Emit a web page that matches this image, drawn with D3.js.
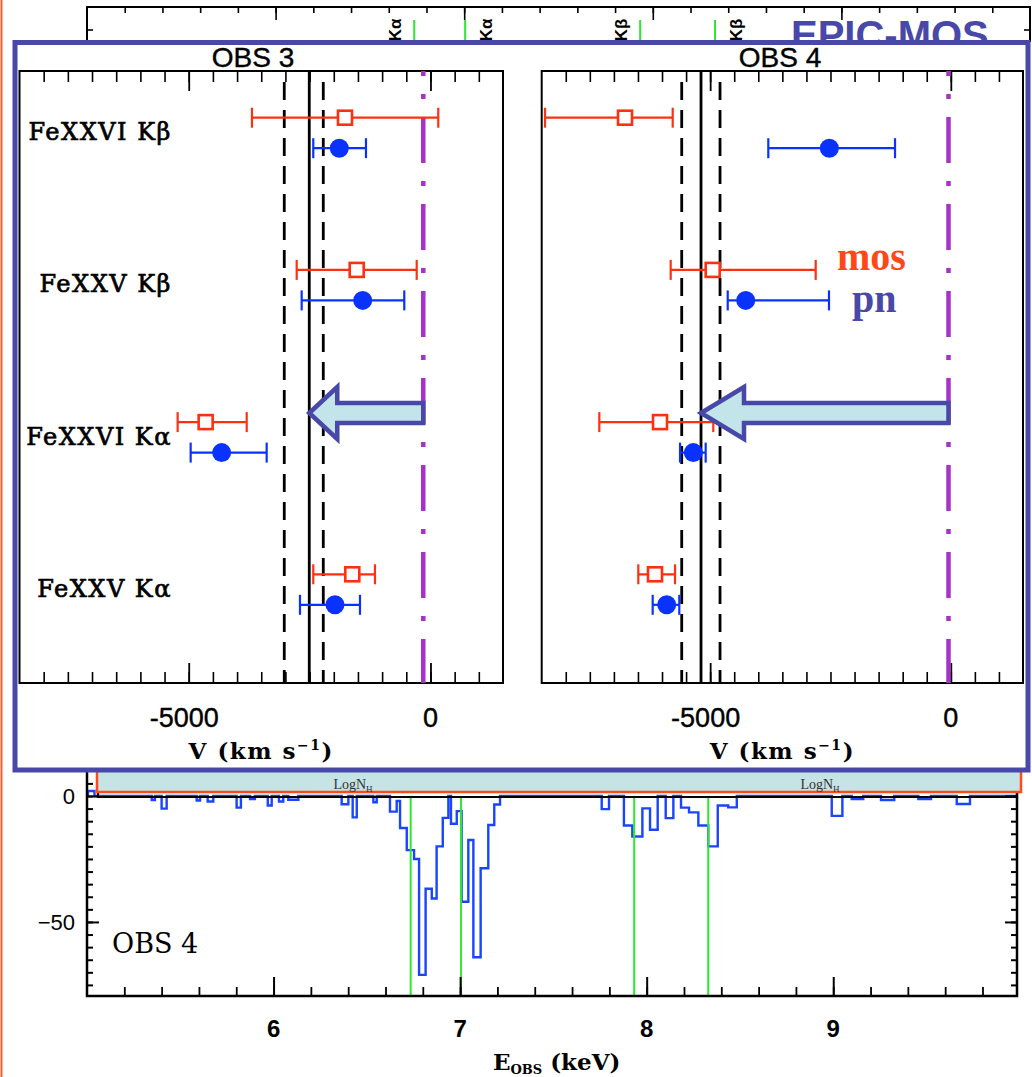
<!DOCTYPE html>
<html><head><meta charset="utf-8">
<script src="https://cdn.jsdelivr.net/npm/d3@7"></script>
<style>
html,body{margin:0;padding:0;background:#fff;}
svg{display:block;}
</style></head>
<body>
<svg id="chart" width="1032" height="1077"></svg>
<script>
// ---------------- velocity shifts of the Fe K absorption lines (km/s) ----------------
const lines = ["FeXXVI Kβ", "FeXXV Kβ", "FeXXVI Kα", "FeXXV Kα"];
const obsNames = ["OBS 3", "OBS 4"];

const obs3Mos   = [-1768, -1526, -4650, -1617];
const obs3MosLo = [-3692, -2767, -5229, -2424];
const obs3MosHi = [  161,  -285, -3801, -1148];
const obs3Pn    = [-1886, -1402, -4319, -1975];
const obs3PnLo  = [-2424, -2664, -4960, -2699];
const obs3PnHi  = [-1334,  -542, -3388, -1458];

const obs4Mos   = [-6769, -4947, -6042, -6146];
const obs4MosLo = [-8431, -5820, -7303, -6493];
const obs4MosHi = [-5778, -2807, -4935, -5730];
const obs4Pn    = [-2524, -4261, -5350, -5903];
const obs4PnLo  = [-3792, -4635, -5626, -6194];
const obs4PnHi  = [-1159, -2531, -5093, -5641];

// mean outflow velocity and its range, and rest-frame reference, per observation
const meanV  = [-2507, -5190];
const meanLo = [-3024, -5591];
const meanHi = [-2217, -4795];
const restV  = [-149, -48];
const velLabelTicks = [-5000, 0];

// ---------------- residual spectrum (OBS 4) ----------------
const specEdges = [5.0, 5.005, 5.04, 5.347, 5.364, 5.400, 5.427, 5.588, 5.606, 5.647, 5.677,
  5.802, 5.825, 5.874, 5.900, 5.969, 5.990, 6.029, 6.052, 6.079, 6.133, 6.365, 6.401, 6.424,
  6.446, 6.535, 6.553, 6.624, 6.660, 6.678, 6.714, 6.753, 6.780, 6.815, 6.848, 6.874, 6.907,
  6.937, 6.951, 6.982, 7.008, 7.044, 7.071, 7.110, 7.151, 7.183, 7.214, 7.759, 7.798, 7.878,
  7.923, 7.977, 8.018, 8.059, 8.102, 8.143, 8.184, 8.227, 8.277, 8.330, 8.381, 8.437, 8.483,
  8.992, 9.049, 9.099, 9.161, 9.256, 9.327, 9.456, 9.524, 9.662, 9.733, 9.985];
const specValues = [0, 2, 0, -1.6, 0, -5.0, 0, -1.8, 0, -2.2,
  0, -4.6, 0, -1.2, 0, -3.8, 0, -2.2, 0, -1.5, 0, -3.3, 0,
  -8.5, 0, -2.5, 0, -6.2, -2.0, -12.7, -21.5, -25, -71, -36.8, -40.7, -20,
  -8.7, 0, -11, -6, -42, -17.5, -64, -28.7, -11.5, -3.4, 0, -5.2, 0,
  -11.7, -16.1, -4.9, -13.4, 0, -8.8, 0, -4.6, -6.5, -11.7, -20, -3.8, -4.5,
  0, -7.9, 0, -1.2, 0, -1.6, 0, -1.2, 0, -3.2, 0];
const lineEnergies = [6.735, 7.005, 7.933, 8.33];
const lineTags = ["Kα", "Kα", "Kβ", "Kβ"];
const energyTicks = [6, 7, 8, 9];
const countTicks = [0, -50];

// ---------------- drawing ----------------
const W = 1032, H = 1077;
const svg = d3.select("#chart");
const PURPLE = "#4848a8";
const GREEN = "#2ee82e";
const SANS = "'Liberation Sans', Arial, sans-serif";
const SERIF = "'DejaVu Serif', serif";

function styleAxis(sel, w) {
  sel.select(".domain").remove();
  sel.selectAll(".tick line").attr("stroke", "#000").attr("stroke-width", w);
}

svg.append("defs").append("clipPath").attr("id", "topclip")
  .append("rect").attr("x", 0).attr("y", 0).attr("width", W).attr("height", 42);

// thin strip on the far left
svg.append("line").attr("x1", 1.5).attr("x2", 1.5).attr("y1", 0).attr("y2", H)
  .attr("stroke", "#ff5a28").attr("stroke-width", 2);

// ---- upper spectrum panel (mostly covered) ----
const xTop = d3.scaleLinear().domain([5, 10]).range([87, 1030]);
const topG = svg.append("g").attr("clip-path", "url(#topclip)");
topG.append("path")
  .attr("d", `M${xTop(5)},48V7H${xTop(10)}V48`)
  .attr("fill", "none").attr("stroke", "#000").attr("stroke-width", 2);
topG.append("g").attr("transform", "translate(0,7)")
  .call(d3.axisBottom(xTop).tickValues(d3.range(5.2, 9.99, 0.2)).tickSize(6).tickFormat(""))
  .call(s => styleAxis(s, 1.6));
topG.append("g").attr("transform", "translate(0,7)")
  .call(d3.axisBottom(xTop).tickValues(energyTicks).tickSize(13).tickFormat(""))
  .call(s => styleAxis(s, 1.6));
topG.append("line").attr("x1", xTop(5)).attr("x2", xTop(5) + 6).attr("y1", 30).attr("y2", 30)
  .attr("stroke", "#000").attr("stroke-width", 1.6);
topG.append("line").attr("x1", xTop(10)).attr("x2", xTop(10) - 6).attr("y1", 30).attr("y2", 30)
  .attr("stroke", "#000").attr("stroke-width", 1.6);
topG.selectAll("line.eline").data(lineEnergies).join("line")
  .attr("class", "eline")
  .attr("x1", d => xTop(d)).attr("x2", d => xTop(d))
  .attr("y1", 20).attr("y2", 48)
  .attr("stroke", GREEN).attr("stroke-width", 2);
topG.selectAll("text.tag").data(lineTags).join("text")
  .attr("class", "tag")
  .attr("transform", (d, i) => `translate(${xTop(lineEnergies[i]) + (i % 2 ? 21 : -19)},30) rotate(-90)`)
  .attr("text-anchor", "middle").attr("dy", "0.35em")
  .attr("font-family", SANS).attr("font-weight", "bold").attr("font-size", 17)
  .text(d => d);
topG.append("text").attr("x", 791).attr("y", 49)
  .attr("font-family", SANS).attr("font-weight", "bold").attr("font-size", 40)
  .attr("fill", PURPLE).text("EPIC-MOS");

// ---- lower spectrum panel ----
const xSpec = d3.scaleLinear().domain([5, 9.985]).range([87, 1017]);
const ySpec = d3.scaleLinear().domain([-79.4, 10]).range([996, 770.8]);
const lowG = svg.append("g");

const specPts = specValues.map((v, i) => [specEdges[i], v]);
specPts.push([specEdges[specEdges.length - 1], specValues[specValues.length - 1]]);
const specLine = d3.line().x(d => xSpec(d[0])).y(d => ySpec(d[1])).curve(d3.curveStepAfter);
lowG.append("path").datum(specPts).attr("d", specLine)
  .attr("fill", "none").attr("stroke", "#1a44ff").attr("stroke-width", 2.4)
  .attr("stroke-linejoin", "miter");

lowG.selectAll("line.eline").data(lineEnergies).join("line")
  .attr("class", "eline")
  .attr("x1", d => xSpec(d)).attr("x2", d => xSpec(d))
  .attr("y1", 797).attr("y2", 996)
  .attr("stroke", GREEN).attr("stroke-width", 2);

// frame
lowG.append("path")
  .attr("d", `M${xSpec(5)},${ySpec(10)}V${ySpec(-79.4)}H${xSpec(9.985)}V${ySpec(10)}`)
  .attr("fill", "none").attr("stroke", "#000").attr("stroke-width", 2.5);
// energy axis ticks
lowG.append("g").attr("transform", "translate(0,996)")
  .call(d3.axisTop(xSpec).tickValues(d3.range(5.2, 9.9, 0.2)).tickSize(9).tickFormat(""))
  .call(s => styleAxis(s, 1.8));
lowG.append("g").attr("transform", "translate(0,996)")
  .call(d3.axisTop(xSpec).tickValues(energyTicks).tickSize(19).tickFormat(""))
  .call(s => styleAxis(s, 2));
lowG.selectAll("text.elab").data(energyTicks).join("text")
  .attr("class", "elab")
  .attr("x", d => xSpec(d)).attr("y", 1037)
  .attr("text-anchor", "middle")
  .attr("font-family", SANS).attr("font-weight", "bold").attr("font-size", 24)
  .text(d => d);
// count axis ticks, both sides
const countMinor = d3.range(-75, 6, 5);
lowG.append("g").attr("transform", `translate(${xSpec(5)},0)`)
  .call(d3.axisRight(ySpec).tickValues(countMinor).tickSize(6).tickFormat(""))
  .call(s => styleAxis(s, 2));
lowG.append("g").attr("transform", `translate(${xSpec(5)},0)`)
  .call(d3.axisRight(ySpec).tickValues(countTicks).tickSize(12).tickFormat(""))
  .call(s => styleAxis(s, 2));
lowG.append("g").attr("transform", `translate(${xSpec(9.985)},0)`)
  .call(d3.axisLeft(ySpec).tickValues(countMinor).tickSize(6).tickFormat(""))
  .call(s => styleAxis(s, 2));
lowG.append("g").attr("transform", `translate(${xSpec(9.985)},0)`)
  .call(d3.axisLeft(ySpec).tickValues(countTicks).tickSize(12).tickFormat(""))
  .call(s => styleAxis(s, 2));
lowG.selectAll("text.clab").data(countTicks).join("text")
  .attr("class", "clab")
  .attr("x", 75).attr("y", d => ySpec(d)).attr("dy", "0.35em")
  .attr("text-anchor", "end")
  .attr("font-family", SANS).attr("font-size", 22)
  .text(d => d3.format("")(d).replace("-", "−"));
lowG.append("text").attr("x", 112).attr("y", 953)
  .attr("font-family", SERIF).attr("font-size", 27).text("OBS 4");
const eTitle = lowG.append("text").attr("x", 493).attr("y", 1070)
  .attr("font-family", SERIF).attr("font-weight", "bold").attr("font-size", 23);
eTitle.append("tspan").text("E");
eTitle.append("tspan").attr("font-size", 13).attr("dy", 4).text("OBS");
eTitle.append("tspan").attr("dy", -4).text(" (keV)");

// column-density strip
lowG.append("path")
  .attr("d", `M98,771V797H${xSpec(9.985)}V771`)
  .attr("fill", "none").attr("stroke", "#000").attr("stroke-width", 2.2);
lowG.append("rect").attr("x", 97).attr("y", 766).attr("width", 924).attr("height", 26)
  .attr("fill", "#c4e4e6").attr("stroke", "#ff4a1a").attr("stroke-width", 2.5);
[353, 820].forEach(cx => {
  const t = lowG.append("text").attr("x", cx).attr("y", 789).attr("text-anchor", "middle")
    .attr("font-family", "'Liberation Serif', serif").attr("font-size", 14).attr("fill", "#333");
  t.append("tspan").text("LogN");
  t.append("tspan").attr("font-size", 9).attr("dy", 3).text("H");
});

// ---- velocity comparison box ----
svg.append("rect").attr("x", 15).attr("y", 42.5).attr("width", 1013).attr("height", 727.5)
  .attr("fill", "#fff").attr("stroke", PURPLE).attr("stroke-width", 5);

const panels = [
  { name: obsNames[0], left: 19.5, right: 503, titleX: 253, head: 28,
    mos: obs3Mos, mosLo: obs3MosLo, mosHi: obs3MosHi, pn: obs3Pn, pnLo: obs3PnLo, pnHi: obs3PnHi, k: 0 },
  { name: obsNames[1], left: 541.7, right: 1023, titleX: 780, head: 43,
    mos: obs4Mos, mosLo: obs4MosLo, mosHi: obs4MosHi, pn: obs4Pn, pnLo: obs4PnLo, pnHi: obs4PnHi, k: 1 }
];
const PT = 71, PB = 683;
const yRow = d3.scalePoint().domain(lines).range([117.7, 574.3]);
const PN_OFF = 30.5;
const RED = "#ff3010", BLUE = "#0a32ff";

panels.forEach(p => {
  const x = d3.scaleLinear().domain([-8500, 1500]).range([p.left, p.right]);
  const g = svg.append("g");

  g.append("text").attr("x", p.titleX).attr("y", 67).attr("text-anchor", "middle")
    .attr("font-family", SANS).attr("font-size", 28)
    .attr("stroke", "#000").attr("stroke-width", 0.4).text(p.name);

  g.append("rect").attr("x", p.left).attr("y", PT).attr("width", p.right - p.left).attr("height", PB - PT)
    .attr("fill", "none").attr("stroke", "#000").attr("stroke-width", 2);

  const minor = d3.range(-8000, 1001, 500);
  g.append("g").attr("transform", `translate(0,${PT})`)
    .call(d3.axisBottom(x).tickValues(minor).tickSize(11).tickFormat(""))
    .call(s => styleAxis(s, 1.6));
  g.append("g").attr("transform", `translate(0,${PT})`)
    .call(d3.axisBottom(x).tickValues(velLabelTicks).tickSize(20).tickFormat(""))
    .call(s => styleAxis(s, 1.8));
  g.append("g").attr("transform", `translate(0,${PB})`)
    .call(d3.axisTop(x).tickValues(minor).tickSize(11).tickFormat(""))
    .call(s => styleAxis(s, 1.6));
  g.append("g").attr("transform", `translate(0,${PB})`)
    .call(d3.axisTop(x).tickValues(velLabelTicks).tickSize(20).tickFormat(""))
    .call(s => styleAxis(s, 1.8));

  g.selectAll("text.vlab").data(velLabelTicks).join("text")
    .attr("class", "vlab")
    .attr("x", d => x(d) + (d < 0 ? -4.5 : 0)).attr("y", 727)
    .attr("text-anchor", "middle")
    .attr("font-family", SANS).attr("font-size", 27)
    .attr("stroke", "#000").attr("stroke-width", 0.4)
    .text(d => d);
  const vt = g.append("text").attr("x", (p.left + p.right) / 2).attr("y", 759)
    .attr("text-anchor", "middle")
    .attr("font-family", SERIF).attr("font-weight", "bold").attr("font-size", 23)
    .attr("letter-spacing", 1.5);
  vt.append("tspan").text("V (km s");
  vt.append("tspan").attr("font-size", 14).attr("dy", -9).text("−1");
  vt.append("tspan").attr("dy", 9).text(")");

  // mean velocity and its range
  [meanLo[p.k], meanHi[p.k]].forEach(v => {
    g.append("line").attr("x1", x(v)).attr("x2", x(v)).attr("y1", PT).attr("y2", PB)
      .attr("stroke", "#000").attr("stroke-width", 2.8)
      .attr("stroke-dasharray", "18,10").attr("stroke-dashoffset", 17);
  });
  g.append("line").attr("x1", x(meanV[p.k])).attr("x2", x(meanV[p.k])).attr("y1", PT).attr("y2", PB)
    .attr("stroke", "#000").attr("stroke-width", 2.8);
  // rest frame
  g.append("line").attr("x1", x(restV[p.k])).attr("x2", x(restV[p.k])).attr("y1", PT).attr("y2", PB)
    .attr("stroke", "#a832c8").attr("stroke-width", 4.5)
    .attr("stroke-dasharray", "46,18,5,18").attr("stroke-dashoffset", 41);

  // row labels on the left panel
  if (p.k === 0) {
    g.selectAll("text.row").data(lines).join("text")
      .attr("class", "row")
      .attr("x", 172).attr("y", d => yRow(d) + 14).attr("dy", "0.35em")
      .attr("text-anchor", "end")
      .attr("font-family", SERIF).attr("font-size", 24).attr("letter-spacing", 1.5)
      .attr("stroke", "#000").attr("stroke-width", 0.7)
      .text(d => d);
  }

  // MOS points: open squares
  lines.forEach((ln, i) => {
    const y = yRow(ln);
    const eb = g.append("g").attr("stroke", RED).attr("stroke-width", 2.2).attr("fill", "none");
    eb.append("line").attr("x1", x(p.mosLo[i])).attr("x2", x(p.mosHi[i])).attr("y1", y).attr("y2", y);
    eb.append("line").attr("x1", x(p.mosLo[i])).attr("x2", x(p.mosLo[i])).attr("y1", y - 10).attr("y2", y + 10);
    eb.append("line").attr("x1", x(p.mosHi[i])).attr("x2", x(p.mosHi[i])).attr("y1", y - 10).attr("y2", y + 10);
    eb.append("rect").attr("x", x(p.mos[i]) - 7).attr("y", y - 7).attr("width", 14).attr("height", 14)
      .attr("fill", "#fff").attr("stroke-width", 2.6);
  });
  // pn points: filled circles
  lines.forEach((ln, i) => {
    const y = yRow(ln) + PN_OFF;
    const eb = g.append("g").attr("stroke", BLUE).attr("stroke-width", 2.2);
    eb.append("line").attr("x1", x(p.pnLo[i])).attr("x2", x(p.pnHi[i])).attr("y1", y).attr("y2", y);
    eb.append("line").attr("x1", x(p.pnLo[i])).attr("x2", x(p.pnLo[i])).attr("y1", y - 10).attr("y2", y + 10);
    eb.append("line").attr("x1", x(p.pnHi[i])).attr("x2", x(p.pnHi[i])).attr("y1", y - 10).attr("y2", y + 10);
    eb.append("circle").attr("cx", x(p.pn[i])).attr("cy", y).attr("r", 9.5)
      .attr("fill", BLUE).attr("stroke", "none");
  });

  // arrow from rest frame to the mean outflow velocity
  const yc = 413, bh = 10, hh = 26;
  const tip = x(meanV[p.k]), tail = x(restV[p.k]), hb = tip + p.head;
  g.append("path")
    .attr("d", `M${tip},${yc}L${hb},${yc - hh}L${hb},${yc - bh}L${tail},${yc - bh}L${tail},${yc + bh}L${hb},${yc + bh}L${hb},${yc + hh}Z`)
    .attr("fill", "#c3e4e8").attr("stroke", PURPLE).attr("stroke-width", 4.5)
    .attr("stroke-linejoin", "miter");
});

// detector legend
svg.append("text").attr("x", 837).attr("y", 270)
  .attr("font-family", "'Liberation Serif', serif").attr("font-weight", "bold").attr("font-size", 40)
  .attr("fill", "#ff4818").text("mos");
svg.append("text").attr("x", 852).attr("y", 312)
  .attr("font-family", "'Liberation Serif', serif").attr("font-weight", "bold").attr("font-size", 40)
  .attr("fill", PURPLE).text("pn");
</script>
</body></html>
